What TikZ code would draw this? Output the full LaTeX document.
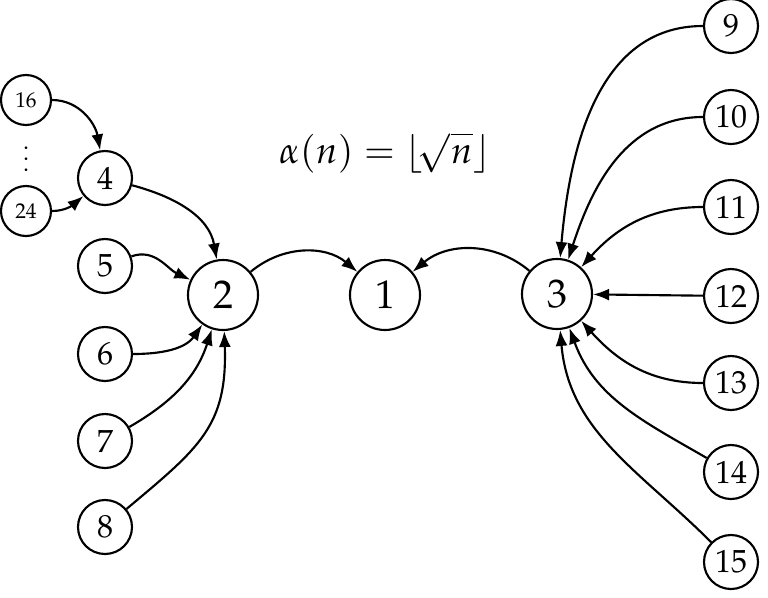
\documentclass[tikz,border=0pt]{standalone}
\usepackage[T1]{fontenc}
\usepackage{mathpazo}
\usetikzlibrary{arrows.meta}
\tikzset{
  big/.style={circle,draw,line width=1.6pt,minimum size=52.5pt,inner sep=0pt,font=\fontsize{30}{36}\selectfont},
  small/.style={circle,draw,line width=1.6pt,minimum size=40.5pt,inner sep=0pt,font=\fontsize{24}{28}\selectfont},
  tiny/.style={circle,draw,line width=1.6pt,minimum size=37.5pt,inner sep=0pt,font=\fontsize{16}{20}\selectfont},
  edge/.style={line width=1.6pt,-{Latex[length=12pt,width=9pt]}}
}
\begin{document}
\begin{tikzpicture}[x=0.75pt,y=-0.75pt]
\useasboundingbox (0,0) rectangle (768,597);
\node[big] (n1) at (385,295) {1};
\node[big] (n2) at (223,295) {2};
\node[big] (n3) at (557,294) {3};
\node[small] (n4) at (105,178) {4};
\node[tiny] (n16) at (26,100) {16};
\node[tiny] (n24) at (26,211) {24};
\node[align=center,inner sep=0pt,font=\fontsize{18}{8}\selectfont] (dots) at (26,159) {.\\.\\.};
\node[small] (n5) at (105,266) {5};
\node[small] (n6) at (105,354) {6};
\node[small] (n7) at (105,441) {7};
\node[small] (n8) at (105,527) {8};
\node[small] (n9) at (731,26) {9};
\node[small] (n10) at (731,117) {10};
\node[small] (n11) at (731,207) {11};
\node[small] (n12) at (731,296) {12};
\node[small] (n13) at (731,383) {13};
\node[small] (n14) at (731,472) {14};
\node[small] (n15) at (731,562) {15};
\node[font=\fontsize{28}{34}\selectfont] (f) at (385,153) {$\alpha(n)=\lfloor\!\sqrt{n}\rfloor$};
\draw[edge] (n16) to[out=0,in=100] (n4);
\draw[edge] (n24) to[out=0,in=220] (n4);
\draw[edge] (n4) to[out=-15,in=100] (n2);
\draw[edge] (n5) to[out=20,in=155] (n2);
\draw[edge] (n6) to[out=0,in=235] (n2);
\draw[edge] (n7) to[out=30,in=252] (n2);
\draw[edge] (n8) to[out=40,in=272,looseness=1.2] (n2);
\draw[edge] (n2) to[out=40,in=140] (n1);
\draw[edge] (n3) to[out=140,in=40] (n1);
\draw[edge] (n9) to[out=180,in=85] (n3);
\draw[edge] (n10) to[out=180,in=72] (n3);
\draw[edge] (n11) to[out=180,in=48] (n3);
\draw[edge] (n12) -- (n3);
\draw[edge] (n13) to[out=180,in=-48] (n3);
\draw[edge] (n14) to[out=150,in=-70] (n3);
\draw[edge] (n15) to[out=135,in=-85] (n3);
\end{tikzpicture}
\end{document}
